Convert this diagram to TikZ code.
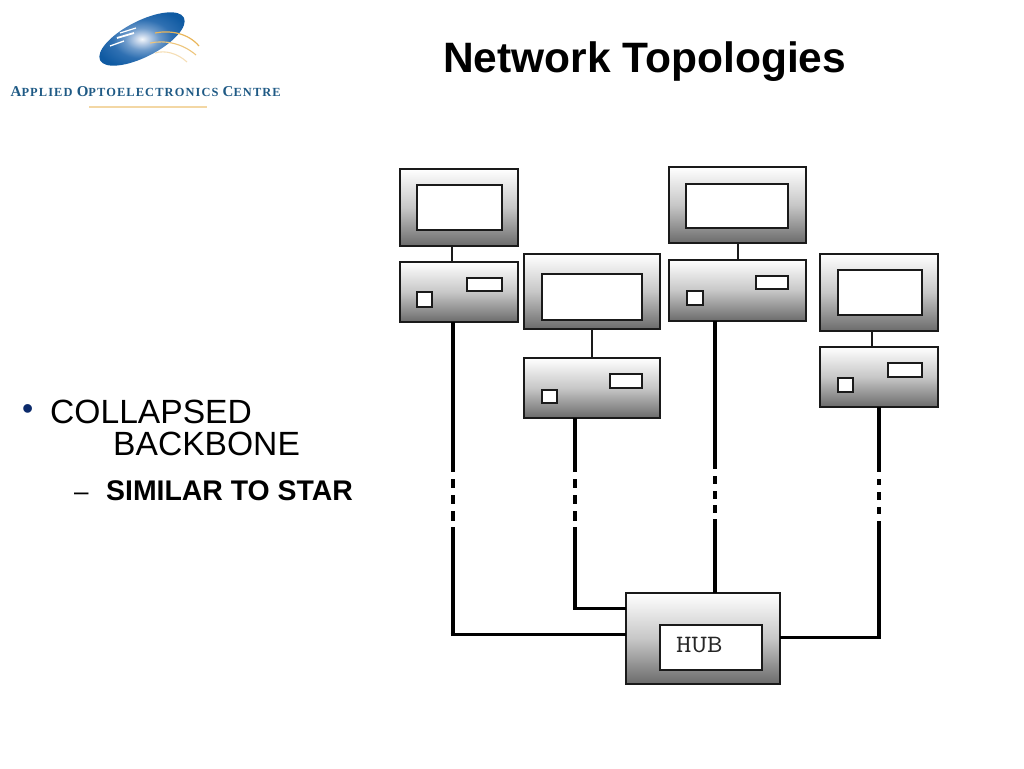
\documentclass[tikz,border=0pt]{standalone}
\usepackage{graphicx}
\usepackage{fontspec}
\setmainfont{Liberation Sans}
\newfontfamily\logofont[LetterSpace=9]{Liberation Serif}
\usetikzlibrary{calc}
\definecolor{logoblue}{HTML}{1F5A85}
\definecolor{logogold}{HTML}{E9B65A}
\definecolor{lineink}{HTML}{1A1A1A}
\definecolor{bulletblue}{HTML}{0B2A6B}
\definecolor{lgA}{HTML}{F4F7FB}
\definecolor{lgB}{HTML}{B9CDE6}
\definecolor{lgC}{HTML}{6E9BCB}
\definecolor{lgD}{HTML}{2F70B2}
\definecolor{lgE}{HTML}{0F5AA2}
\pgfdeclareradialshading{logoshade}{\pgfpoint{0bp}{0bp}}{
  color(0bp)=(lgA); color(4bp)=(lgB); color(9bp)=(lgC); color(16bp)=(lgD); color(26bp)=(lgE); color(60bp)=(lgE)}
\tikzset{
  x=1pt,y=-1pt,
  gradbox/.style={draw=lineink,line width=1.7pt,rectangle,inner sep=0pt,outer sep=0pt,top color=white,bottom color=black!58,middle color=black!22,anchor=north west},
  whitebox/.style={draw=lineink,line width=1.7pt,fill=white,rectangle,inner sep=0pt,outer sep=0pt,anchor=north west},
  thinlink/.style={draw=lineink,line width=2pt},
  cablev/.style={draw=black,line width=4pt},
  cableh/.style={draw=black,line width=3pt},
  plain/.style={inner sep=0pt,anchor=base west},
}
\newcommand{\boxat}[6]{% name style x1 y1 x2 y2
  \node[#2,minimum width=#5pt-#3pt,minimum height=#6pt-#4pt] (#1) at (#3,#4) {};}
\begin{document}
\begin{tikzpicture}
\useasboundingbox (0,0) rectangle (1024,768);
% logo
\begin{scope}
\path[shading=logoshade,rotate around={27:(142,39)}] (142,39) ellipse [x radius=47,y radius=18];
\draw[white,line width=1.3pt] (110,46) -- (124,41);
\draw[white,line width=1.8pt] (117,38) -- (134,33);
\draw[white,line width=1.2pt] (120,33) -- (136,28);
\draw[logogold,line width=1.2pt] (155,33) .. controls (170,30) and (188,33) .. (199,46);
\draw[logogold!80!white,line width=1.1pt] (150,43) .. controls (165,40) and (182,43) .. (196,55);
\draw[logogold!45!white,line width=1.1pt] (155,53) .. controls (165,50) and (177,53) .. (187,62);
\end{scope}
\node[plain,text=logoblue] (logotext) at (10.5,96) {\logofont\bfseries\fontsize{15}{15}\selectfont A\fontsize{12.4}{12.4}\selectfont PPLIED \fontsize{15}{15}\selectfont O\fontsize{12.4}{12.4}\selectfont PTOELECTRONICS \fontsize{15}{15}\selectfont C\fontsize{12.4}{12.4}\selectfont ENTRE};
\fill[logogold!55!white] (89,106) rectangle (207,107.5);
% texts
\node[plain] (title) at (443,72) {\bfseries\fontsize{42.5}{42.5}\selectfont Network Topologies};
\node[plain,text=bulletblue] (bul) at (22,419) {\fontsize{32}{32}\selectfont •};
\node[plain] (t1) at (50,423) {\fontsize{33.6}{33.6}\selectfont COLLAPSED};
\node[plain] (t2) at (113,455) {\fontsize{33.6}{33.6}\selectfont BACKBONE};
\node[plain] (dash) at (74,500) {\fontsize{26}{26}\selectfont –};
\node[plain] (t3) at (106,500) {\bfseries\fontsize{28.4}{28.4}\selectfont SIMILAR TO STAR};
% PC 1
\boxat{m1}{gradbox}{400}{169}{518}{246}
\boxat{s1}{whitebox}{417}{185}{502}{230}
\boxat{u1}{gradbox}{400}{262}{518}{322}
\boxat{a1}{whitebox}{467}{278}{502}{291}
\boxat{b1}{whitebox}{417}{292}{432}{307}
\coordinate (l1) at (451.5,250);
\draw[thinlink] (l1 |- m1.south) -- (l1 |- u1.north);
% PC 2
\boxat{m2}{gradbox}{524}{254}{660}{329}
\boxat{s2}{whitebox}{542}{274}{642}{320}
\boxat{u2}{gradbox}{524}{358}{660}{418}
\boxat{a2}{whitebox}{610}{374}{642}{388}
\boxat{b2}{whitebox}{542}{390}{557}{403}
\draw[thinlink] (m2.south) -- (u2.north);
% PC 3
\boxat{m3}{gradbox}{669}{167}{806}{243}
\boxat{s3}{whitebox}{686}{184}{788}{228}
\boxat{u3}{gradbox}{669}{260}{806}{321}
\boxat{a3}{whitebox}{756}{276}{788}{289}
\boxat{b3}{whitebox}{687}{291}{703}{305}
\draw[thinlink] (m3.south) -- (u3.north);
% PC 4
\boxat{m4}{gradbox}{820}{254}{938}{331}
\boxat{s4}{whitebox}{838}{270}{922}{315}
\boxat{u4}{gradbox}{820}{347}{938}{407}
\boxat{a4}{whitebox}{888}{363}{922}{377}
\boxat{b4}{whitebox}{838}{378}{853}{392}
\coordinate (l4) at (872,340);
\draw[thinlink] (l4 |- m4.south) -- (l4 |- u4.north);
% hub
\boxat{hub}{gradbox}{626}{593}{780}{684}
\boxat{hs}{whitebox}{660}{625}{762}{670}
\node[anchor=base west,inner sep=0pt,text=black!85] (hubt) at (676,652) {\scalebox{1.2}[1]{\ttfamily\fontsize{25}{25}\selectfont HUB}};
% cables
\coordinate (c1) at (452.5,634);
\coordinate (c2) at (575,608);
\coordinate (c3) at (714.5,400);
\coordinate (c4) at (879,637);
\draw[cablev,dash pattern=on 150pt off 7pt on 9pt off 7pt on 9pt off 7pt on 10pt off 6pt on 200pt] (c1 |- u1.south) -- (c1);
\draw[cablev,dash pattern=on 54pt off 7pt on 9pt off 7pt on 9pt off 7pt on 10pt off 6pt on 200pt] (c2 |- u2.south) -- (c2);
\draw[cablev,dash pattern=on 148pt off 7pt on 8pt off 7pt on 8pt off 6pt on 8pt off 6pt on 200pt] (c3 |- u3.south) -- (c3 |- hub.north);
\draw[cablev,dash pattern=on 65pt off 7pt on 6pt off 7pt on 8pt off 7pt on 7pt off 7pt on 200pt] (c4 |- u4.south) -- (c4);
\draw[cableh] ([xshift=-2pt]c1) -- (c1 -| hub.west);
\draw[cableh] ([xshift=-2pt]c2) -- (c2 -| hub.west);
\draw[cableh] (c4 -| hub.east) -- ([xshift=2pt]c4);
\end{tikzpicture}
\end{document}
